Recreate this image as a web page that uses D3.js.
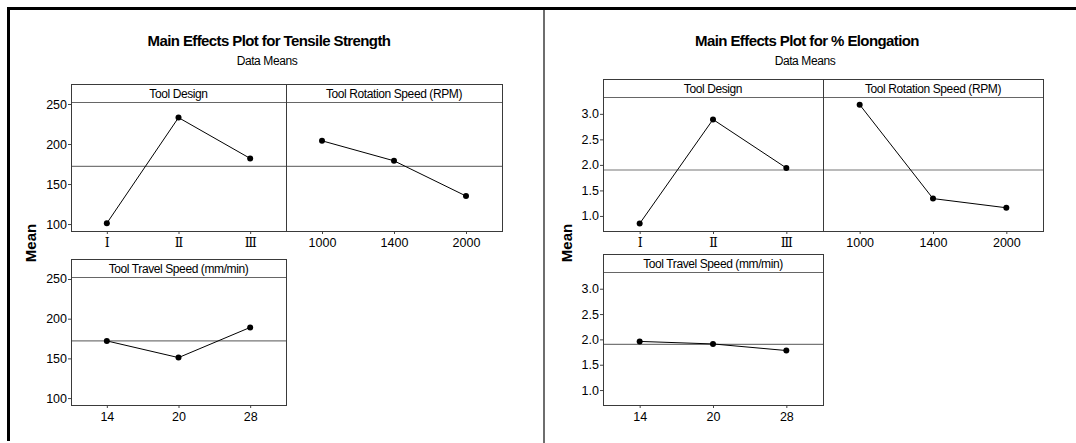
<!DOCTYPE html>
<html>
<head>
<meta charset="utf-8">
<script src="https://cdn.jsdelivr.net/npm/d3@7"></script>
<style>
  body { margin: 0; background: #fff; }
  svg { display: block; font-family: "Liberation Sans", Arial, sans-serif; }
</style>
</head>
<body>
<div id="chart"></div>
<script>
// factor levels
const designLevels = ["\u2160", "\u2161", "\u2162"];
const rotationLevels = ["1000", "1400", "2000"];
const travelLevels = ["14", "20", "28"];

// tensile strength means
const tensileDesign = [101, 233, 182];
const tensileRotation = [204, 179, 135];
const tensileTravel = [172, 151, 189];
const tensileMean = 172;
const tensileTicks = [100, 150, 200, 250];

// % elongation means
const elongDesign = [0.85, 2.89, 1.94];
const elongRotation = [3.18, 1.34, 1.16];
const elongTravel = [1.96, 1.91, 1.78];
const elongMean = 1.9;
const elongTicks = [1.0, 1.5, 2.0, 2.5, 3.0];

const width = 1076;
const height = 443;

const svg = d3.select("#chart")
  .append("svg")
  .attr("width", width)
  .attr("height", height);

// outer frame lines
svg.append("line")
  .attr("x1", 7).attr("x2", width).attr("y1", 8.5).attr("y2", 8.5)
  .attr("stroke", "#000").attr("stroke-width", 3);
svg.append("line")
  .attr("x1", 8.5).attr("x2", 8.5).attr("y1", 7).attr("y2", 441)
  .attr("stroke", "#000").attr("stroke-width", 3);
svg.append("line")
  .attr("x1", 544).attr("x2", 544).attr("y1", 10).attr("y2", height)
  .attr("stroke", "#6e6e6e").attr("stroke-width", 2);

function drawPanel(parent, p, label, levels, values, mean, domain, ticks, showY, fmt) {
  const g = parent.append("g");
  const x = d3.scalePoint().domain(levels).range([p.x0, p.x1]).padding(0.5);
  const y = d3.scaleLinear().domain(domain).range([p.y1, p.ys]);

  // strip
  g.append("line")
    .attr("x1", p.x0).attr("x2", p.x1).attr("y1", p.ys + 0.5).attr("y2", p.ys + 0.5)
    .attr("stroke", "#666").attr("stroke-width", 1);
  g.append("text")
    .attr("x", (p.x0 + p.x1) / 2)
    .attr("y", p.ys - 4.5)
    .attr("text-anchor", "middle")
    .attr("font-size", "12px")
    .attr("letter-spacing", "-0.4px")
    .text(label);

  // reference line at the overall mean
  g.append("line")
    .attr("x1", p.x0).attr("x2", p.x1).attr("y1", y(mean)).attr("y2", y(mean))
    .attr("stroke", "#777").attr("stroke-width", 1.2);

  // x axis
  const xa = g.append("g")
    .attr("transform", `translate(0,${p.y1})`)
    .call(d3.axisBottom(x).tickSize(3).tickPadding(4).tickSizeOuter(0));
  xa.select(".domain").remove();
  xa.selectAll("line").attr("stroke", "#444");
  xa.selectAll("text")
    .attr("font-size", "12.5px")
    .attr("font-family", levels === designLevels ? "'DejaVu Serif', serif" : null)
    .attr("fill", "#000");

  if (showY) {
    const ya = g.append("g")
      .attr("transform", `translate(${p.x0},0)`)
      .call(d3.axisLeft(y).tickValues(ticks).tickFormat(fmt).tickSize(3).tickPadding(1).tickSizeOuter(0));
    ya.select(".domain").remove();
    ya.selectAll("line").attr("stroke", "#444");
    ya.selectAll("text").attr("font-size", "12.5px").attr("fill", "#000");
  }

  // means
  const pts = levels.map((l, i) => [x(l), y(values[i])]);
  g.append("path")
    .attr("d", d3.line()(pts))
    .attr("fill", "none")
    .attr("stroke", "#000")
    .attr("stroke-width", 1);
  g.selectAll("circle.pt")
    .data(pts)
    .join("circle")
    .attr("class", "pt")
    .attr("cx", (d) => d[0])
    .attr("cy", (d) => d[1])
    .attr("r", 3)
    .attr("fill", "#000");

  // panel frame
  g.append("rect")
    .attr("x", p.x0 + 0.5).attr("y", p.y0 + 0.5)
    .attr("width", p.x1 - p.x0).attr("height", p.y1 - p.y0)
    .attr("fill", "none").attr("stroke", "#3a3a3a").attr("stroke-width", 1);
}

function drawChart(c) {
  const g = svg.append("g");
  g.append("text")
    .attr("x", c.titleX).attr("y", 46)
    .attr("text-anchor", "middle")
    .attr("font-size", "15px")
    .attr("font-weight", "bold")
    .attr("letter-spacing", "-0.6px")
    .text(c.title);
  g.append("text")
    .attr("x", c.titleX - 2).attr("y", 65)
    .attr("text-anchor", "middle")
    .attr("font-size", "12px")
    .attr("letter-spacing", "-0.4px")
    .text("Data Means");
  g.append("text")
    .attr("transform", `translate(${c.meanX},243) rotate(-90)`)
    .attr("text-anchor", "middle")
    .attr("font-size", "15px")
    .attr("font-weight", "bold")
    .text("Mean");

  drawPanel(g, c.panels[0], "Tool Design", designLevels, c.design, c.mean, c.domain, c.ticks, true, c.fmt);
  drawPanel(g, c.panels[1], "Tool Rotation Speed (RPM)", rotationLevels, c.rotation, c.mean, c.domain, c.ticks, false, c.fmt);
  drawPanel(g, c.panels[2], "Tool Travel Speed (mm/min)", travelLevels, c.travel, c.mean, c.domain, c.ticks, true, c.fmt);
}

drawChart({
  title: "Main Effects Plot for Tensile Strength",
  titleX: 269,
  meanX: 36,
  design: tensileDesign,
  rotation: tensileRotation,
  travel: tensileTravel,
  mean: tensileMean,
  domain: [91.3, 252.5],
  ticks: tensileTicks,
  fmt: d3.format("d"),
  panels: [
    { x0: 71, x1: 286, y0: 84, ys: 102, y1: 231 },
    { x0: 286, x1: 502, y0: 84, ys: 102, y1: 231 },
    { x0: 71, x1: 286, y0: 259, ys: 277, y1: 405 }
  ]
});

drawChart({
  title: "Main Effects Plot for % Elongation",
  titleX: 807,
  meanX: 572,
  design: elongDesign,
  rotation: elongRotation,
  travel: elongTravel,
  mean: elongMean,
  domain: [0.705, 3.33],
  ticks: elongTicks,
  fmt: d3.format(".1f"),
  panels: [
    { x0: 603, x1: 823, y0: 79, ys: 97, y1: 231 },
    { x0: 823, x1: 1043, y0: 79, ys: 97, y1: 231 },
    { x0: 603, x1: 823, y0: 254, ys: 272, y1: 405 }
  ]
});
</script>
</body>
</html>
